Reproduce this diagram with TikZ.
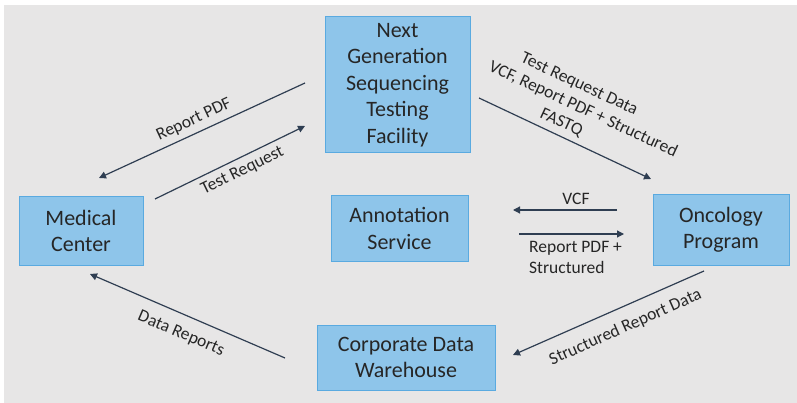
\documentclass[tikz,border=0pt]{standalone}
\usepackage{fontspec}
\setmainfont{Carlito}
\usetikzlibrary{arrows.meta}
\definecolor{bggray}{HTML}{E7E6E6}
\definecolor{boxfill}{HTML}{8EC5EA}
\definecolor{boxline}{HTML}{5AAAE0}
\definecolor{txt}{HTML}{262626}
\definecolor{arr}{HTML}{2F3E52}
\begin{document}
\begin{tikzpicture}[x=1pt,y=-1pt,
  box/.style={draw=boxline, fill=boxfill, line width=1pt, inner sep=0pt, align=center, text=txt, font=\fontsize{22}{26.5}\selectfont},
  flow/.style={draw=arr, line width=1.2pt, -{Triangle[length=7pt,width=7pt]}},
  lbl/.style={text=txt, inner sep=0pt, font=\fontsize{17.5}{21}\selectfont}]
\useasboundingbox (0,0) rectangle (797,403);
\fill[white] (0,0) rectangle (797,403);
\fill[bggray] (4,5) rectangle (797,403);

\node[box, minimum width=145pt, minimum height=136pt] (ngs) at (397.5,85) {Next\\Generation\\Sequencing\\Testing\\Facility};
\node[box, minimum width=124pt, minimum height=68pt] (med) at (81,231) {Medical\\Center};
\node[box, minimum width=137pt, minimum height=65pt] (ann) at (399.5,228.5) {Annotation\\Service};
\node[box, minimum width=136pt, minimum height=70pt] (onc) at (721,230) {Oncology\\Program};
\node[box, minimum width=178pt, minimum height=65pt] (cdw) at (406,357.5) {Corporate Data\\Warehouse};

\coordinate (rp1) at (305,83);  \coordinate (rp2) at (99,178);
\coordinate (tr1) at (155,199); \coordinate (tr2) at (305,126);
\coordinate (td1) at (479,98);  \coordinate (td2) at (651,179);
\coordinate (vc1) at (617,210); \coordinate (vc2) at (513,210);
\coordinate (rs1) at (519,234); \coordinate (rs2) at (624,234);
\coordinate (sr1) at (704,271); \coordinate (sr2) at (513,355);
\coordinate (dr1) at (285,358); \coordinate (dr2) at (90,274);

\draw[flow] (rp1) -- (rp2);
\draw[flow] (tr1) -- (tr2);
\draw[flow] (td1) -- (td2);
\draw[flow] (vc1) -- (vc2);
\draw[flow] (rs1) -- (rs2);
\draw[flow] (sr1) -- (sr2);
\draw[flow] (dr1) -- (dr2);

\node[lbl, rotate=25] (lrp) at (194,120) {Report PDF};
\node[lbl, rotate=26] (ltr) at (242.5,171) {Test Request};
\node[lbl, rotate=-25, align=center] (ltd) at (583,109.5) {Test Request Data\kern28pt\\VCF, Report PDF + Structured\\FASTQ\kern28pt};
\node[lbl, anchor=base] (lvc) at (576,205) {VCF};
\node[lbl, anchor=north west, align=left] (lrs) at (529,241.5) {Report PDF +\\Structured};
\node[lbl, rotate=24] (lsr) at (625.5,327.5) {Structured Report Data};
\node[lbl, rotate=-23] (ldr) at (181,334) {Data Reports};
\end{tikzpicture}
\end{document}
